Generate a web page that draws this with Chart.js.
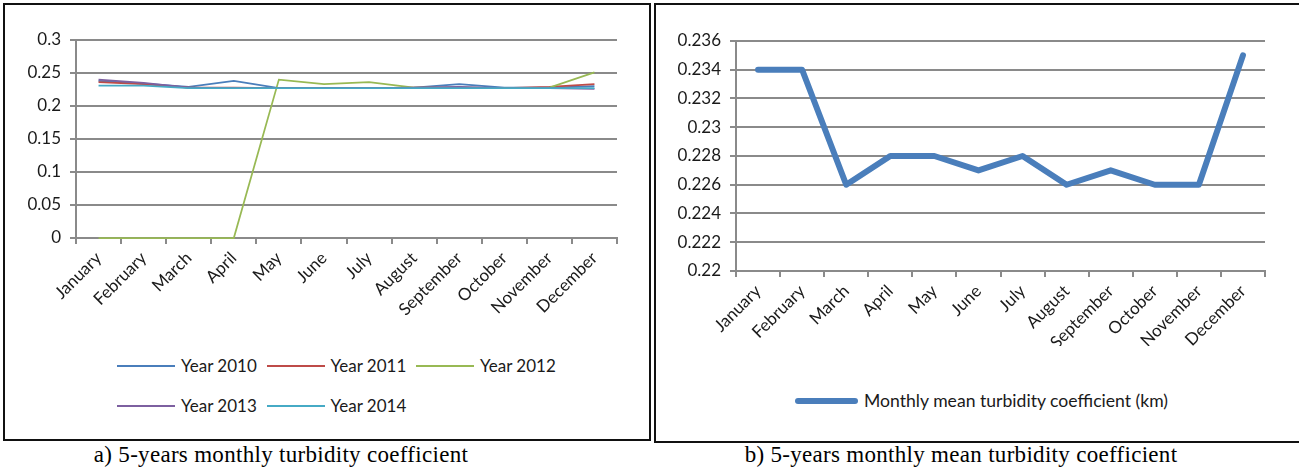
<!DOCTYPE html>
<html>
<head>
<meta charset="utf-8">
<script src="https://cdn.jsdelivr.net/npm/chart.js@4.4.0/dist/chart.umd.min.js"></script>
<style>
  html, body { margin: 0; padding: 0; background: #fff; }
  body { width: 1299px; height: 471px; position: relative; overflow: hidden; font-family: Lato, sans-serif; }
  .panel { position: absolute; border: 2px solid #111; box-sizing: border-box; }
  #panelA { left: 3px; top: 3px; width: 648px; height: 438px; }
  #panelB { left: 654px; top: 3px; width: 660px; height: 440px; }
  canvas { position: absolute; }
  #chartA { left: 6px; top: 6px; }
  #chartB { left: 657px; top: 6px; }
  .legend-item { position: absolute; display: flex; align-items: center; white-space: nowrap;
                 font-family: Lato, sans-serif; font-size: 17px; color: #1a1a1a; line-height: 20px; }
  #legendB .legend-item { font-size: 17.6px; }
  .swatch { display: inline-block; margin-right: 6px; }
  .caption { position: absolute; top: 441px; font-family: "Liberation Serif", serif; font-size: 23px;
             letter-spacing: 0.3px; color: #000; text-align: center; white-space: nowrap; line-height: 28px; }
</style>
</head>
<body>
<div class="panel" id="panelA"></div>
<div class="panel" id="panelB"></div>
<canvas id="chartA" width="640" height="330"></canvas>
<canvas id="chartB" width="640" height="340"></canvas>
<div id="legendA"></div>
<div id="legendB"></div>
<div class="caption" style="left:61px;width:440px;">a) 5-years monthly turbidity coefficient</div>
<div class="caption" style="left:711px;width:500px;">b) 5-years monthly mean turbidity coefficient</div>

<script>
// Months along the x axis of both panels
const months = ['January', 'February', 'March', 'April', 'May', 'June', 'July',
                'August', 'September', 'October', 'November', 'December'];

// Panel a: turbidity coefficient per month for each year
const year2010 = [0.238, 0.234, 0.229, 0.238, 0.227, 0.227, 0.227, 0.228, 0.233, 0.228, 0.228, 0.230];
const year2011 = [0.236, 0.233, 0.228, 0.228, 0.227, 0.227, 0.227, 0.228, 0.228, 0.227, 0.229, 0.233];
const year2012 = [0, 0, 0, 0, 0.240, 0.233, 0.236, 0.228, 0.228, 0.227, 0.228, 0.251];
const year2013 = [0.240, 0.235, 0.228, 0.227, 0.227, 0.227, 0.227, 0.228, 0.229, 0.227, 0.227, 0.226];
const year2014 = [0.231, 0.231, 0.227, 0.227, 0.227, 0.227, 0.227, 0.227, 0.227, 0.227, 0.227, 0.227];

// Panel b: monthly mean over the five years
const monthlyMean = [0.234, 0.234, 0.226, 0.228, 0.228, 0.227, 0.228, 0.226, 0.227, 0.226, 0.226, 0.235];

// Value axis ticks
const leftTickValues  = [0, 0.05, 0.1, 0.15, 0.2, 0.25, 0.3];
const leftTickLabels  = ['0', '0.05', '0.1', '0.15', '0.2', '0.25', '0.3'];
const rightTickValues = [0.22, 0.222, 0.224, 0.226, 0.228, 0.23, 0.232, 0.234, 0.236];
const rightTickLabels = ['0.22', '0.222', '0.224', '0.226', '0.228', '0.23', '0.232', '0.234', '0.236'];

const GRID = '#8a8a8a';
const TEXT = '#1a1a1a';
const tickFont = { family: 'Lato', size: 17 };

function valueAxis(min, max, values, labels, width) {
  return {
    min: min, max: max,
    afterBuildTicks: s => { s.ticks = values.map(v => ({ value: v })); },
    afterFit: s => { s.width = width; },
    ticks: { callback: v => labels[values.indexOf(v)], padding: 9, color: TEXT, font: tickFont },
    grid: { color: GRID, lineWidth: 2, tickLength: 6, drawTicks: true },
    border: { color: GRID, width: 2 }
  };
}

function categoryAxis(height) {
  return {
    offset: true,
    afterFit: s => { s.height = height; },
    ticks: { minRotation: 45, maxRotation: 45, autoSkip: false, padding: 4, color: TEXT, font: tickFont },
    grid: { offset: true, drawOnChartArea: false, tickLength: 6, color: GRID, lineWidth: 2 },
    border: { color: GRID, width: 2 }
  };
}

function yearSeries(label, data, color, order) {
  return { label, data, borderColor: color, backgroundColor: color, borderWidth: 1.75,
           pointRadius: 0, tension: 0, fill: false, order, clip: 6 };
}

const chartA = new Chart(document.getElementById('chartA'), {
  type: 'line',
  data: {
    labels: months,
    datasets: [
      yearSeries('Year 2010', year2010, '#4A7EBB', 5),
      yearSeries('Year 2011', year2011, '#BE4B48', 4),
      yearSeries('Year 2012', year2012, '#98B954', 3),
      yearSeries('Year 2013', year2013, '#7D60A0', 2),
      yearSeries('Year 2014', year2014, '#46AAC5', 1)
    ]
  },
  options: {
    responsive: false, animation: false,
    layout: { padding: { top: 34, right: 29, left: 0, bottom: 0 } },
    plugins: { legend: { display: false }, tooltip: { enabled: false } },
    scales: { x: categoryAxis(98), y: valueAxis(0, 0.3, leftTickValues, leftTickLabels, 70) }
  }
});

const chartB = new Chart(document.getElementById('chartB'), {
  type: 'line',
  data: {
    labels: months,
    datasets: [{
      label: 'Monthly mean turbidity coefficient (km)',
      data: monthlyMean,
      borderColor: '#4A7EBB', backgroundColor: '#4A7EBB', borderWidth: 6,
      borderCapStyle: 'round', borderJoinStyle: 'round',
      pointRadius: 0, tension: 0, fill: false, clip: 6
    }]
  },
  options: {
    responsive: false, animation: false,
    layout: { padding: { top: 35, right: 32, left: 0, bottom: 0 } },
    plugins: { legend: { display: false }, tooltip: { enabled: false } },
    scales: { x: categoryAxis(75), y: valueAxis(0.22, 0.236, rightTickValues, rightTickLabels, 79) }
  }
});

// Legends built from the chart datasets
function addLegendItem(host, ds, left, centerY, swatchW, swatchH, rounded) {
  const item = document.createElement('div');
  item.className = 'legend-item';
  item.style.left = left + 'px';
  item.style.top = (centerY - 10) + 'px';
  const sw = document.createElement('span');
  sw.className = 'swatch';
  sw.style.width = swatchW + 'px';
  sw.style.height = swatchH + 'px';
  sw.style.background = ds.borderColor;
  if (rounded) sw.style.borderRadius = (swatchH / 2) + 'px';
  item.appendChild(sw);
  item.appendChild(document.createTextNode(ds.label));
  host.appendChild(item);
}

const legendA = document.getElementById('legendA');
chartA.data.datasets.forEach((ds, i) => {
  const col = i % 3, row = Math.floor(i / 3);
  addLegendItem(legendA, ds, 117 + col * 149.5, 366 + row * 40, 58, 2, false);
});

const legendB = document.getElementById('legendB');
chartB.data.datasets.forEach(ds => addLegendItem(legendB, ds, 795, 401, 63, 6, true));
</script>
</body>
</html>
